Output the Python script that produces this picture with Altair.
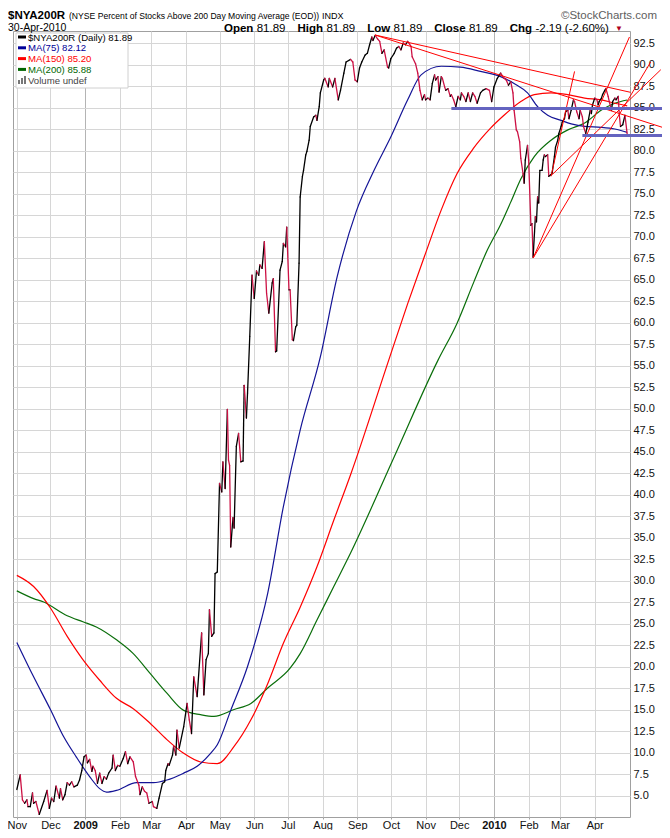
import altair as alt
import pandas as pd

BASE = pd.Timestamp("2009-01-01")

# ---- $NYA200R daily (days from 2009-01-01, value) ----
nya_days = [-61,-58,-56,-54,-52,-51,-49,-47,-46,-44,
            -41,-37,-34,-32,-30,-28,-26,-23,-22,-20,
            -18,-16,-14,-12,-10,-7,-5,-3,-1,1,
            2,4,6,7,9,11,13,15,17,19,
            21,24,25,27,29,31,34,36,38,40,
            43,45,48,49,51,53,55,57,60,61,
            64,66,69,71,72,74,75,78,79,81,
            82,84,88,91,93,95,97,100,104,106,
            108,110,111,113,115,116,118,120,122,123,
            125,127,128,129,130,132,133,135,137,139,
            141,142,144,145,147,149,151,153,155,156,
            158,160,162,164,167,168,170,171,174,176,
            177,179,180,182,183,185,186,188,189,191,
            192,194,195,197,198,200,201,204,206,207,
            209,210,213,214,217,218,221,223,226,228,
            231,233,237,239,241,243,245,247,250,252,
            254,256,257,259,261,263,265,267,270,271,
            273,276,278,280,282,284,286,288,291,292,
            295,297,299,301,303,304,306,308,310,312,
            313,315,316,318,319,321,322,324,326,327,
            329,331,333,335,336,338,340,342,344,346,
            348,350,353,355,358,361,363,365,368,371,
            374,376,378,380,382,383,385,386,388,389,
            391,392,393,395,396,398,399,400,402,403,
            404,405,406,408,409,410,411,413,414,416,
            417,419,420,422,423,425,426,428,429,431,
            432,434,436,437,439,441,442,444,445,447,
            448,449,451,452,453,455,457,458,459,461,
            462,464,465,467,468,470,471,473,474,476,
            477,478,480,482,484]
nya_values = [5.7,7.4,4.5,4.1,4.5,3.7,3.7,5.3,4.1,4.3,
              2.8,4.3,5.6,3.5,4.7,4.3,6.1,4.7,5.8,4.5,
              5.1,6.5,6.2,6.6,6.0,6.2,6.8,7.9,9.5,9.7,
              8.8,9.2,7.8,8.4,7.9,6.4,7.6,6.4,7.2,6.9,
              7.6,8.2,9.7,7.9,8.5,8.4,9.3,10.1,8.7,9.5,
              8.9,7.2,6.2,5.1,6.0,5.5,5.3,4.1,4.3,3.7,
              3.5,4.7,6.4,6.6,7.9,8.7,8.5,9.7,10.7,9.7,
              12.6,10.5,13.0,15.7,13.8,12.2,18.8,16.5,23.9,16.7,
              20.8,21.5,26.6,23.5,23.9,30.8,31.0,41.3,40.3,43.8,
              40.7,49.9,44.0,43.4,33.9,37.3,36.1,45.6,47.1,43.8,
              43.9,52.7,48.9,51.8,58.4,65.5,62.8,66.0,65.5,66.7,
              66.3,69.4,63.4,61.1,64.6,65.1,56.6,56.7,66.1,67.1,
              69.2,68.8,71.1,63.8,63.8,58.0,57.9,59.5,59.7,66.9,
              74.6,77.0,77.7,79.5,79.9,81.2,82.8,83.9,84.1,83.5,
              85.1,86.7,88.2,88.4,87.4,88.4,87.4,88.4,85.9,87.0,
              89.0,90.3,90.6,90.3,88.2,88.0,89.6,90.3,91.1,91.3,
              92.3,93.2,92.8,93.4,93.0,92.7,91.3,91.7,89.7,89.6,
              90.7,91.3,91.9,92.1,91.7,92.5,92.3,92.7,92.1,90.9,
              90.1,89.0,87.0,85.9,86.5,85.9,86.1,85.9,87.8,88.8,
              88.2,88.6,86.8,88.6,88.4,87.4,87.0,87.2,86.3,86.5,
              85.9,85.1,86.3,85.9,86.7,86.3,85.7,86.7,85.7,86.7,
              86.3,85.5,86.7,87.0,87.2,87.0,85.7,87.4,88.4,89.0,
              88.4,88.2,87.6,88.0,86.7,84.7,82.4,82.2,81.0,79.1,
              77.3,76.2,78.9,80.6,78.9,71.3,71.5,67.6,72.3,71.7,
              74.6,73.9,77.7,77.7,78.9,79.5,79.3,79.5,77.0,77.2,
              77.4,79.3,80.4,81.2,82.0,82.8,83.3,83.7,84.5,84.7,
              83.7,84.7,85.9,85.7,84.5,83.7,84.7,83.9,82.8,82.0,
              82.6,83.3,84.7,84.3,85.3,86.1,85.9,85.3,85.7,86.1,
              86.5,87.0,87.2,86.3,85.7,84.7,85.7,86.1,85.9,86.3,
              84.1,82.8,83.0,84.1,81.89]

# ---- moving averages ----
ma75_days = [-61,-46,-31,-19,-8,4,13,19,28,46,61,73,88,100,112,118,130,145,163,177,
             192,210,225,242,258,273,288,300,318,335,353,371,383,395,404,413,425,434,446,461,473,484]
ma75_values = [22.8,18.8,15.0,11.8,9.5,7.2,5.8,5.4,5.6,6.5,6.5,6.8,7.6,8.4,9.9,10.9,14.9,20.0,28.5,38.6,
               47.5,56.0,65.3,72.9,77.7,81.6,85.9,88.8,89.8,89.7,89.2,88.6,87.8,86.7,85.1,84.1,83.5,83.1,82.8,82.7,82.5,82.12]

ma150_days = [-61,-46,-31,-16,-2,13,28,43,58,73,88,103,118,133,148,163,177,192,207,222,
              237,271,288,303,318,332,347,362,374,389,401,416,431,446,461,473,484]
ma150_values = [30.6,29.3,26.8,23.5,20.8,18.4,16.3,15.1,13.4,11.5,9.9,8.9,8.7,10.7,13.8,18.0,22.7,26.9,31.6,37.0,
                42.3,55.6,62.2,67.7,73.1,77.3,80.3,82.6,84.1,85.7,86.5,86.7,86.5,86.1,85.9,85.5,85.2]

ma200_days = [-61,-46,-37,-16,-2,10,28,43,58,73,88,103,115,133,148,163,183,192,207,222,
              237,276,315,332,347,359,371,380,389,401,416,431,446,461,473,484]
ma200_values = [28.8,27.9,27.5,25.9,25.2,24.6,23.1,21.5,19.2,16.9,14.9,14.4,14.2,15.0,15.7,17.5,19.8,21.5,25.4,29.3,
                33.2,44.4,55.6,59.9,64.7,68.4,71.4,74.0,76.7,79.3,81.2,82.4,83.2,84.7,85.5,85.88]

# ---- annotation lines (start day, start value, end day, end value) ----
red_d1 = [259, 259, 400, 400, 417, 416]
red_v1 = [93.43, 93.43, 67.5, 67.5, 77.2, 77.0]
red_d2 = [487, 523, 486, 505, 514, 437]
red_v2 = [86.77, 82.38, 93.2, 90.3, 89.4, 89.2]

blue_d1 = [327, 444]
blue_d2 = [523, 523]
blue_v = [84.9, 81.75]

y_ticks = [5.0 + 2.5 * i for i in range(36)]
month_starts = [(2008, 11), (2008, 12)] + [(2009, m) for m in range(1, 13)] + [(2010, m) for m in range(1, 5)]


def to_dates(days):
    return [BASE + pd.Timedelta(days=int(d)) for d in days]


FONT = "Liberation Sans, Arial, sans-serif"

xscale = alt.Scale(domain=[alt.DateTime(year=2008, month=10, date=28, hours=14),
                           alt.DateTime(year=2010, month=5, date=2, hours=12)])
yscale = alt.Scale(domain=[2.5, 93.9], nice=False, zero=False)

xaxis = alt.Axis(
    title=None,
    values=[alt.DateTime(year=y, month=m, date=1) for (y, m) in month_starts],
    labelExpr="month(datum.value) == 0 ? timeFormat(datum.value, '%Y') : timeFormat(datum.value, '%b')",
    labelFontWeight={"condition": {"test": "month(datum.value) == 0", "value": "bold"}, "value": "normal"},
    gridColor={"condition": {"test": "month(datum.value) == 0", "value": "#B4B4B4"}, "value": "#D6D6D6"},
    grid=True, domain=False, tickSize=2, tickColor="#A0A0A0",
    labelFont=FONT, labelFontSize=11, labelColor="#111", labelPadding=0,
    labelOverlap=False, labelFlush=False,
)
yaxis = alt.Axis(
    title=None, orient="right", values=y_ticks, format=".1f",
    grid=True, gridColor="#D6D6D6", domain=False, ticks=False,
    labelFont=FONT, labelFontSize=11, labelColor="#111", labelPadding=3,
    labelOverlap=False, labelFlush=False,
)

# main series, coloured up/down segments
nd = to_dates(nya_days)
seg = pd.DataFrame({
    "x": nd[:-1], "x2": nd[1:],
    "y": nya_values[:-1], "y2": nya_values[1:],
})
seg["dir"] = ["up" if b >= a else "down" for a, b in zip(nya_values[:-1], nya_values[1:])]

main = alt.Chart(seg).mark_rule(strokeWidth=1.3, strokeCap="round").encode(
    x=alt.X("x:T", scale=xscale, axis=xaxis),
    x2="x2:T",
    y=alt.Y("y:Q", scale=yscale, axis=yaxis),
    y2="y2:Q",
    color=alt.Color("dir:N", scale=alt.Scale(domain=["up", "down"], range=["#000000", "#CC1144"]), legend=None),
)


def ma_layer(days, vals, color):
    df = pd.DataFrame({"x": to_dates(days), "y": vals})
    return alt.Chart(df).mark_line(color=color, strokeWidth=1.2, interpolate="monotone").encode(
        x=alt.X("x:T", scale=xscale, axis=xaxis),
        y=alt.Y("y:Q", scale=yscale, axis=yaxis),
    )


ma75 = ma_layer(ma75_days, ma75_values, "#141496")
ma150 = ma_layer(ma150_days, ma150_values, "#FF0000")
ma200 = ma_layer(ma200_days, ma200_values, "#0A6E0A")

red_df = pd.DataFrame({"x": to_dates(red_d1), "x2": to_dates(red_d2), "y": red_v1, "y2": red_v2})
red_lines = alt.Chart(red_df).mark_rule(color="#FF0000", strokeWidth=1, clip=False).encode(
    x=alt.X("x:T", scale=xscale, axis=xaxis), x2="x2:T",
    y=alt.Y("y:Q", scale=yscale, axis=yaxis), y2="y2:Q",
)

blue_df = pd.DataFrame({"x": to_dates(blue_d1), "x2": to_dates(blue_d2), "y": blue_v})
blue_lines = alt.Chart(blue_df).mark_rule(color="#6464C0", strokeWidth=3, clip=False).encode(
    x=alt.X("x:T", scale=xscale, axis=xaxis), x2="x2:T",
    y=alt.Y("y:Q", scale=yscale, axis=yaxis),
)

dummy = pd.DataFrame({"a": [0]})


def label(text, x, y, size=11, weight="normal", color="#000000", align="left", baseline="alphabetic"):
    return alt.Chart(dummy).mark_text(
        text=text, align=align, baseline=baseline, fontSize=size, fontWeight=weight,
        color=color, font=FONT,
    ).encode(x=alt.value(x), y=alt.value(y))


def dash(x1, x2, y, color, w=3):
    return alt.Chart(dummy).mark_rule(color=color, strokeWidth=w).encode(
        x=alt.value(x1), x2=alt.value(x2), y=alt.value(y))


texts = [
    label("$NYA200R", -5, -12.5, size=11.5, weight="bold"),
    label("(NYSE Percent of Stocks Above 200 Day Moving Average (EOD))", 56, -12.5, size=8.6),
    label("INDX", 309, -12.5, size=9),
    label("\u00a9StockCharts.com", 644, -12, size=11.5, color="#606060", align="right"),
    label("30-Apr-2010", -5, 0.3, size=10.5),
    label("Open", 211, 0.5, size=11.5, weight="bold"),
    label("81.89", 243.7, 0.5, size=11.5),
    label("High", 284.5, 0.5, size=11.5, weight="bold"),
    label("81.89", 313.4, 0.5, size=11.5),
    label("Low", 354.2, 0.5, size=11.5, weight="bold"),
    label("81.89", 380.5, 0.5, size=11.5),
    label("Close", 421.3, 0.5, size=11.5, weight="bold"),
    label("81.89", 455.9, 0.5, size=11.5),
    label("Chg", 496.7, 0.5, size=11.5, weight="bold"),
    label("-2.19 (-2.60%)", 522.4, 0.5, size=11.5),
    label("\u25BC", 606, -0.5, size=8, color="#B00020", align="center"),
]

# legend box
legend = [alt.Chart(dummy).mark_rect(fill="white", stroke="#D0D0D0", strokeWidth=1).encode(
    x=alt.value(3), x2=alt.value(115), y=alt.value(2), y2=alt.value(57))]
legend_rows = [
    ("$NYA200R (Daily) 81.89", "#000000"),
    ("MA(75) 82.12", "#000099"),
    ("MA(150) 85.20", "#FF0000"),
    ("MA(200) 85.88", "#006600"),
]
for i, (t, c) in enumerate(legend_rows):
    yy = 6 + i * 10.8
    legend.append(dash(5, 13, yy, c))
    legend.append(label(t, 15, yy + 0.5, size=9.6, color=c, baseline="middle"))
# volume icon
for k, h in enumerate([4, 6, 8]):
    legend.append(alt.Chart(dummy).mark_rule(color="#777777", strokeWidth=2).encode(
        x=alt.value(6 + 3 * k), y=alt.value(53), y2=alt.value(53 - h)))
legend.append(label("Volume undef", 15, 49.7, size=9.6, color="#444444", baseline="middle"))

chart = alt.layer(
    *legend[:1], ma200, ma150, ma75, main, red_lines, blue_lines, *texts, *legend[1:]
).properties(
    width=617, height=786, autosize="none",
    padding={"left": 5, "top": 23, "right": 32, "bottom": 13},
    background="white",
).configure_view(stroke="#A0A0A0", strokeWidth=1)

chart.save("out.html", embed_options={"renderer": "svg", "actions": False})
